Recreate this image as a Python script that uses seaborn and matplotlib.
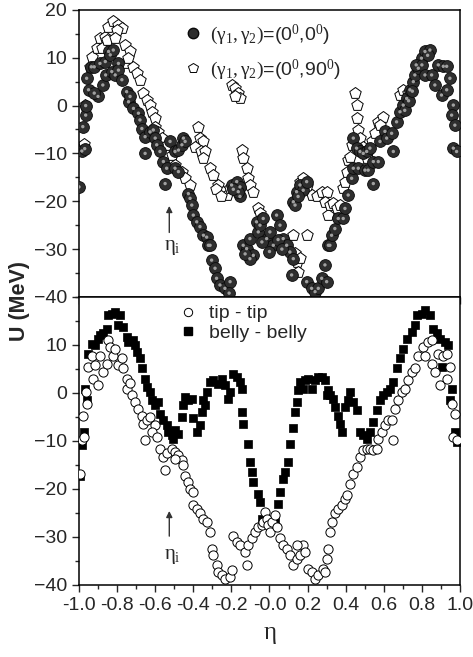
import numpy as np
import seaborn as sns
import matplotlib.pyplot as plt
from matplotlib.ticker import MultipleLocator
from matplotlib.lines import Line2D

# top panel: (gamma1, gamma2) = (0,0)  -> shaded spheres
eta_a = [-1.0, -0.985, -0.97, -0.98, -0.965, -0.965, -0.95, -0.96, -0.935, -0.92, -0.9, -0.92,
         -0.875, -0.86, -0.89, -0.862, -0.845, -0.836, -0.82, -0.828, -0.81, -0.793, -0.793,
         -0.775, -0.75, -0.74, -0.732, -0.714, -0.688, -0.68, -0.67, -0.653, -0.627, -0.61,
         -0.6, -0.592, -0.653, -0.575, -0.557, -0.54, -0.522, -0.496, -0.478, -0.46, -0.452,
         -0.443, -0.548, -0.496, -0.478, -0.426, -0.417, -0.408, -0.4, -0.382, -0.365, -0.347,
         -0.33, -0.321, -0.312, -0.304, -0.286, -0.278, -0.26, -0.234, -0.207, -0.212,
         -0.199, -0.172, -0.155, -0.155, -0.164, -0.19,
         -0.138, -0.12, -0.103, -0.085, -0.103, -0.068, -0.059, -0.05, -0.033, -0.015, 0.002,
         0.02, 0.037, 0.055, 0.072, 0.09, 0.107, 0.125, 0.116, -0.128, 0.0, -0.04, 0.045, 0.065,
         0.125, 0.142, 0.16, 0.177, 0.195, 0.134, 0.15,
         0.195, 0.221, 0.239, 0.256, 0.274, 0.291, 0.30, 0.309, 0.317, 0.326, 0.343, 0.361,
         0.387, 0.396, 0.413, 0.431, 0.44,
         0.44, 0.457, 0.475, 0.492, 0.51, 0.527, 0.466, 0.501, 0.518, 0.545, 0.571, 0.545,
         0.58, 0.606, 0.615, 0.641, 0.65, 0.667, 0.685, 0.702, 0.72, 0.737, 0.755, 0.763,
         0.781, 0.798, 0.816, 0.842, 0.71, 0.73, 0.75, 0.77, 0.83, 0.80,
         0.816, 0.851, 0.868, 0.886, 0.912, 0.93, 0.903, 0.93, 0.947, 0.965, 0.956, 0.973,
         0.965, 0.982]
u_a = [-17.0, -9.5, -9.0, -4.4, -2.0, 0.0, 3.3, 5.7, 8.1, 8.1, 1.9, 2.6,
       4.3, 6.4, 8.8, 9.2, 11.3, 10.6, 11.6, 7.1, 6.4, 8.8, 7.4,
       5.4, 2.9, 0.8, 1.9, -0.6, -1.6, -3.0, -4.8, -6.5, -5.5, -5.1,
       -6.8, -8.2, -10.0, -9.6, -11.7, -13.1, -7.5, -9.6, -9.3, -8.2, -6.8,
       -7.5, -16.3, -13.1, -13.8, -18.4, -19.4, -20.8, -22.9, -24.3, -25.3, -27.1,
       -27.5, -29.2, -29.2, -32.3, -34.0, -36.1, -37.5, -38.2, -36.8, -39.2,
       -16.6, -15.9, -17.0, -19.0, -18.0, -17.5,
       -29.2, -29.9, -27.8, -31.3, -32.0, -24.3, -26.4, -25.0, -23.6, -27.8, -26.4,
       -29.2, -22.9, -25.0, -27.8, -29.2, -30.6, -32.0, -35.4, -31.0, -30.5, -28.5, -28.0, -30.0,
       -20.1, -18.0, -16.6, -17.7, -15.9, -20.8, -19.0,
       -36.8, -38.2, -38.9, -38.2, -36.1, -33.3, -36.8, -29.2, -29.2, -27.1, -25.7, -23.6,
       -23.6, -21.5, -18.7, -15.2, -13.1,
       -6.8, -8.9, -9.6, -10.0, -9.6, -8.9, -13.1, -13.5, -13.5, -11.7, -11.7, -16.3,
       -7.5, -5.4, -6.8, -5.8, -9.6, -3.4, -1.3, 0.1, 1.5, 3.3, 5.0, 6.4,
       7.8, 9.9, 11.3, 11.6, -1.0, 1.0, 3.0, 8.5, 10.5, 8.5,
       6.4, 6.4, 4.3, 8.5, 8.2, 8.2, 2.2, 3.3, 5.7, 0.1, -2.0, -4.1,
       -8.9, -9.6]

# top panel: (gamma1, gamma2) = (0,90) -> open pentagons
eta_b = [-0.986, -0.972, -0.968, -0.942, -0.934, -0.907, -0.89, -0.863, -0.846, -0.82, -0.793,
         -0.776, -0.8, -0.881, -0.855, -0.811, -0.758, -0.732, -0.758, -0.741, -0.715, -0.697,
         -0.68, -0.662, -0.645, -0.627, -0.618, -0.601, -0.601, -0.584, -0.566, -0.54, -0.514,
         -0.496, -0.461, -0.444, -0.417,
         -0.375, -0.365, -0.347, -0.39, -0.36, -0.34, -0.35,
         -0.312, -0.295, -0.269, -0.243, -0.225, -0.207, -0.28, -0.255,
         -0.199, -0.181, -0.164, -0.155, -0.181,
         -0.146, -0.138, -0.12, -0.111, -0.103, -0.085, -0.059, -0.05, -0.041,
         0.125, 0.195, 0.134, 0.142, 0.16, 0.151,
         0.16, 0.177, 0.195, 0.221, 0.247, 0.274, 0.3, 0.291, 0.309,
         0.317, 0.335, 0.352, 0.37, 0.387, 0.396, 0.405, 0.413, 0.422, 0.431,
         0.448, 0.457, 0.457, 0.466, 0.475, 0.492, 0.518, 0.536, 0.553, 0.571, 0.597, 0.58,
         0.518, 0.51, 0.685, 0.702, 0.728]
u_b = [-8.9, -8.1, 0.1, 8.1, 10.2, 12.0, 14.1, 14.4, 16.5, 17.6, 16.9,
       16.2, 15.8, 12.0, 13.7, 14.1, 12.7, 11.3, 8.8, 9.9, 8.1, 6.8,
       5.4, 2.6, 1.2, 0.1, -1.3, -2.7, -4.4, -5.5, -6.8, -8.2, -10.3,
       -12.4, -13.8, -15.2, -16.6,
       -4.5, -6.8, -7.5, -8.6, -9.6, -9.6, -11.0,
       -13.1, -14.5, -16.6, -18.0, -18.7, -17.3, -17.5, -18.8,
       4.3, 3.6, 2.6, 1.5, 1.9,
       -9.3, -11.0, -13.1, -15.2, -16.6, -18.0, -21.5, -22.5, -23.6,
       -27.1, -27.1, -30.9, -32.6, -31.9, -34.7,
       -15.9, -15.2, -16.9, -18.7, -19.0, -18.0, -18.0, -20.1, -22.9,
       -20.8, -20.4, -21.4, -20.8, -17.3, -15.9, -13.8, -11.4, -10.7, -8.2,
       2.6, 0.1, -2.7, -5.1, -6.8, -8.6, -9.6, -7.5, -5.8, -3.4, -2.3, -4.1,
       -12.4, -11.0, 2.2, 3.3, 2.6]

# bottom panel: tip - tip -> open circles
eta_c = [-0.995, -0.986, -0.972, -0.977, -0.965, -0.96, -0.951, -0.934, -0.925, -0.898, -0.916,
         -0.89, -0.872, -0.855, -0.846, -0.837, -0.82, -0.811, -0.793, -0.776, -0.767, -0.75,
         -0.75, -0.732, -0.723, -0.706, -0.688, -0.671, -0.662, -0.645, -0.627, -0.601, -0.618,
         -0.592, -0.653, -0.575, -0.557, -0.54, -0.514, -0.496, -0.479, -0.461, -0.549, -0.496,
         -0.452, -0.444, -0.426, -0.417, -0.4, -0.4, -0.382, -0.365, -0.347,
         -0.33, -0.312, -0.304, -0.295, -0.277, -0.269, -0.251, -0.234, -0.208, -0.199,
         -0.19, -0.172, -0.155, -0.129, -0.12, -0.111, -0.094, -0.076, -0.059, -0.041, -0.033,
         -0.024, -0.015, -0.006, 0.002, 0.011, 0.029, 0.037, 0.055, 0.072, 0.09, 0.107, 0.125,
         0.142, 0.16, 0.177, 0.186, 0.142,
         0.204, 0.221, 0.239, 0.256, 0.282, 0.291, 0.3, 0.308, 0.317, 0.326, 0.343, 0.361,
         0.378, 0.396, 0.405, 0.422, 0.44, 0.457, 0.475, 0.492, 0.51, 0.527, 0.545, 0.562,
         0.571, 0.589, 0.606, 0.623, 0.641, 0.65, 0.658, 0.676, 0.693, 0.711, 0.728, 0.746,
         0.763, 0.781, 0.807, 0.833, 0.851, 0.816, 0.851, 0.868, 0.886, 0.912, 0.93, 0.895,
         0.93, 0.947, 0.956, 0.973, 0.965, 0.982]
u_c = [-16.8, -9.9, -9.2, -4.7, 0.2, -2.2, 5.4, 7.8, 3.0, 1.6, 5.8,
       7.8, 4.4, 6.1, 11.0, 9.6, 7.8, 9.2, 5.8, 7.2, 5.1, 3.0,
       0.9, 2.0, -0.5, -1.9, -3.3, -4.7, -6.4, -5.7, -5.0, -6.7, -8.1,
       -9.2, -9.9, -11.6, -13.3, -12.6, -11.6, -12.3, -13.0, -14.0, -16.1, -13.7,
       -15.1, -17.2, -18.5, -19.9, -20.6, -23.4, -24.1, -25.1, -26.2,
       -26.9, -29.0, -32.4, -33.8, -35.9, -37.3, -38.0, -38.7, -38.3, -36.9,
       -29.7, -31.0, -31.7, -33.1, -35.9, -31.7, -30.3, -29.0, -27.9, -27.6, -26.9,
       -24.8, -26.2, -27.6, -29.0, -26.9, -25.5, -27.9, -30.3, -31.7, -32.4, -33.8, -35.9,
       -34.5, -33.8, -31.7, -33.1, -31.7,
       -36.6, -37.3, -38.7, -38.0, -36.6, -37.3, -34.5, -32.4, -29.0, -26.9, -25.1, -24.1,
       -23.4, -22.0, -21.3, -18.9, -16.8, -15.4, -13.3, -11.9, -11.6, -11.6, -11.9, -11.6,
       -9.5, -8.1, -6.7, -5.7, -5.7, -9.9, -3.3, -1.5, 0.2, 0.9, 2.6, 4.4,
       5.1, 7.8, 9.6, 10.6, 11.0, 7.8, 6.1, 4.4, 8.2, 7.8, 8.2, 1.6,
       3.0, 5.4, -2.2, -4.3, -9.2, -9.9]

# bottom panel: belly - belly -> filled squares
eta_d = [-0.995, -0.986, -0.972, -0.968, -0.96, -0.951, -0.934, -0.916, -0.898, -0.89, -0.872,
         -0.855, -0.846, -0.829, -0.811, -0.785, -0.793, -0.767, -0.75, -0.741, -0.715, -0.706,
         -0.697, -0.68, -0.671, -0.653, -0.645, -0.627, -0.618, -0.601, -0.584, -0.575, -0.557,
         -0.54, -0.531, -0.514, -0.496, -0.479, -0.505,
         -0.461, -0.452, -0.444, -0.426, -0.409, -0.4, -0.382, -0.365, -0.356, -0.347,
         -0.339, -0.33, -0.312, -0.295, -0.269, -0.251, -0.234, -0.216, -0.208, -0.19, -0.172,
         -0.155, -0.146,
         -0.146, -0.138, -0.111, -0.103, -0.094, -0.085, -0.059, -0.05, -0.041, -0.033, -0.015,
         0.002, 0.029, 0.046, 0.055, 0.072, 0.081, 0.099, 0.107, 0.125, 0.134,
         0.142, 0.151, 0.16, 0.186, 0.204, 0.221, 0.239, 0.256, 0.274, 0.291, 0.3, 0.177,
         0.308, 0.317, 0.335, 0.343, 0.361, 0.37, 0.378, 0.396, 0.413, 0.422, 0.44, 0.457,
         0.475, 0.492, 0.51, 0.527, 0.545, 0.562, 0.58, 0.597, 0.615, 0.632, 0.65, 0.667,
         0.685, 0.702, 0.72, 0.746, 0.763, 0.772, 0.798, 0.816, 0.842, 0.859, 0.877, 0.895,
         0.921, 0.938, 0.903, 0.956, 0.947, 0.973, 0.982]
u_d = [-17.2, -10.9, -8.1, 0.9, -1.5, 8.2, 10.3, 9.9, 11.3, 12.0, 12.4,
       13.4, 16.2, 16.5, 16.9, 16.2, 14.1, 13.8, 11.7, 10.6, 11.0, 9.9,
       8.5, 7.2, 5.1, 3.0, 1.3, 0.2, -1.5, -2.6, -1.9, -4.3, -5.7,
       -6.7, -8.1, -8.8, -7.8, -8.5, -9.5,
       -5.0, -2.6, -0.8, -1.5, -1.2, -5.3, -8.1, -6.7, -4.0, -1.5,
       -2.6, 0.2, 2.3, 2.6, 1.9, 3.0, 1.6, -1.2, 0.2, 4.0, 3.3,
       2.3, 0.9,
       -4.0, -6.4, -10.6, -14.4, -16.5, -18.5, -21.0, -22.7, -26.2, -26.9, -27.2,
       -26.9, -26.2, -23.1, -20.6, -17.9, -16.5, -14.4, -10.6, -7.4, -4.0,
       -1.9, 0.6, 2.3, 2.6, 3.0, 0.9, 2.6, 3.3, 3.3, 2.6, -0.5, 0.9,
       0.6, -0.5, -1.2, -2.9, -4.7, -6.4, -8.1, -2.9, -1.5, 0.2, -1.9, -3.6,
       -8.1, -8.8, -9.5, -8.1, -6.0, -3.6, -1.5, -0.5, 0.2, 0.9, 2.3, 5.1,
       7.2, 9.2, 11.3, 12.7, 14.1, 16.2, 16.5, 17.2, 16.2, 13.4, 12.4, 11.3,
       10.6, 9.9, 5.4, 0.9, -1.5, -8.1, -10.2]

sns.set_style('ticks')
plt.rcParams['font.family'] = ['Liberation Sans', 'DejaVu Sans']
plt.rcParams['mathtext.fontset'] = 'custom'
plt.rcParams['mathtext.rm'] = 'Liberation Serif'
plt.rcParams['mathtext.it'] = 'Liberation Serif'

fig = plt.figure(figsize=(4.73, 6.57), dpi=100)
ax1 = fig.add_axes([0.167, 0.548, 0.8055, 0.437])
ax2 = fig.add_axes([0.167, 0.1096, 0.8055, 0.4384])

# spheres: dark body plus a small highlight
sns.scatterplot(x=eta_a, y=u_a, ax=ax1, marker='o', s=72, color='#2e2e2e',
                edgecolor='#0a0a0a', linewidth=0.6, zorder=3)
sns.scatterplot(x=eta_a, y=u_a, ax=ax1, marker='o', s=6, color='#a0a0a0',
                edgecolor='none', linewidth=0, zorder=4)
sns.scatterplot(x=eta_b, y=u_b, ax=ax1, marker='p', s=75, color='white',
                edgecolor='black', linewidth=0.7, zorder=2)

sns.scatterplot(x=eta_d, y=u_d, ax=ax2, marker='s', s=38, color='black',
                edgecolor='black', linewidth=0.5, zorder=2)
sns.scatterplot(x=eta_c, y=u_c, ax=ax2, marker='o', s=44, color='white',
                edgecolor='black', linewidth=0.7, zorder=3)

for ax in (ax1, ax2):
    ax.set_xlim(-1.0, 1.0)
    ax.set_ylim(-40, 20)
    ax.xaxis.set_major_locator(MultipleLocator(0.2))
    ax.xaxis.set_minor_locator(MultipleLocator(0.1))
    ax.yaxis.set_minor_locator(MultipleLocator(5))
    ax.tick_params(which='major', direction='out', length=5, width=1, labelsize=14,
                   top=False, right=False)
    ax.tick_params(which='minor', direction='out', length=3, width=1, top=False, right=False)
    for sp in ax.spines.values():
        sp.set_visible(True)
        sp.set_linewidth(1.1)
        sp.set_color('black')
    ax.set_xlabel('')
    ax.set_ylabel('')

ax1.set_yticks([-40, -30, -20, -10, 0, 10, 20])
ax1.tick_params(axis='x', labelbottom=False)
ax2.set_yticks([-40, -30, -20, -10, 0, 10])
ax2.set_xticks(np.round(np.arange(-1.0, 1.01, 0.2), 1))
ax2.set_xticklabels([f'{v:.1f}' for v in np.arange(-1.0, 1.01, 0.2)])
ax2.set_xlabel(r'$\eta$', fontsize=18, labelpad=6)

fig.text(0.042, 0.542, 'U (MeV)', rotation=90, fontsize=15.5, fontweight='bold',
         ha='center', va='center')

# eta_i markers
for ax, y0, y1, yt in ((ax1, -27.1, -20.4, -29.6), (ax2, -30.4, -24.0, -34.0)):
    ax.annotate('', xy=(-0.526, y1), xytext=(-0.526, y0),
                arrowprops=dict(arrowstyle='-|>', color='#333333', lw=1.0,
                                mutation_scale=9))
    ax.text(-0.51, yt, r'$\eta_\mathrm{i}$', fontsize=15, ha='center', va='center')

h1 = [Line2D([], [], ls='none', marker='o', ms=7.5, mfc='#2e2e2e', mec='#0a0a0a'),
      Line2D([], [], ls='none', marker='p', ms=7.5, mfc='white', mec='black', mew=0.7)]
ax1.legend(h1, [r'$(\gamma_1,\gamma_2)$=(0$^0$,0$^0$)', r'$(\gamma_1,\gamma_2)$=(0$^0$,90$^0$)'],
           loc='upper left', bbox_to_anchor=(0.24, 1.0), frameon=False, fontsize=14,
           handletextpad=0.4, labelspacing=0.55, handlelength=1.0, borderaxespad=0.25)

h2 = [Line2D([], [], ls='none', marker='o', ms=6, mfc='white', mec='black', mew=0.7),
      Line2D([], [], ls='none', marker='s', ms=5.5, mfc='black', mec='black')]
ax2.legend(h2, ['tip - tip', 'belly - belly'], loc='upper left', bbox_to_anchor=(0.24, 1.0),
           frameon=False, fontsize=14, handletextpad=0.6, labelspacing=0.1,
           handlelength=1.0, borderaxespad=0.0)

fig.savefig('out.png', dpi=100)
